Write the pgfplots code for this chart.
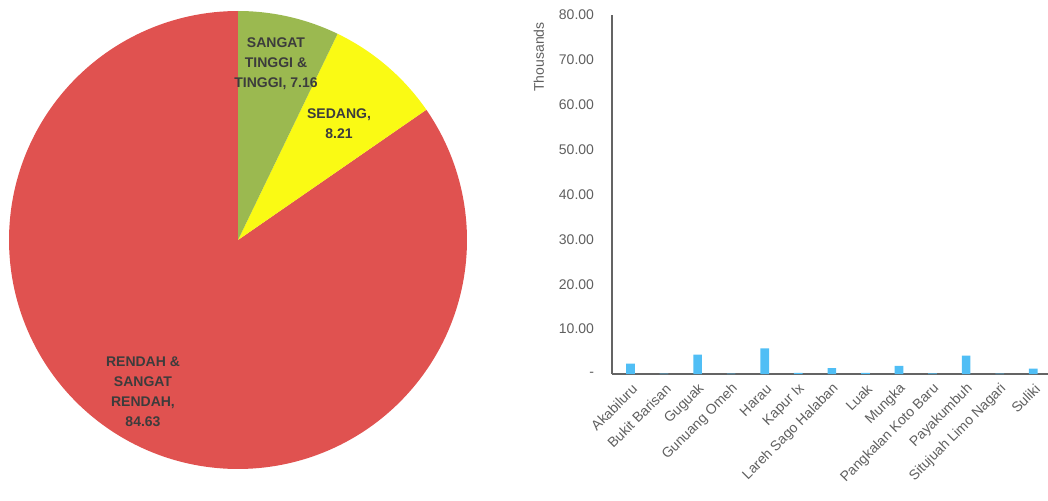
\documentclass[border=0pt]{standalone}
\usepackage{fontspec}
\setmainfont{Liberation Sans}
\usepackage{pgfplots}
\usepackage{pgfplotstable}
\pgfplotsset{compat=1.18}

\definecolor{pred}{RGB}{224,82,80}
\definecolor{pgreen}{RGB}{155,185,80}
\definecolor{pyellow}{RGB}{250,250,20}
\definecolor{barblue}{RGB}{80,190,245}
\definecolor{tickgray}{RGB}{95,95,95}
\definecolor{labgray}{RGB}{60,60,60}
\definecolor{axgray}{RGB}{100,100,100}

\pgfplotstableread{
label value
ST 7.16
SE 8.21
RE 84.63
}\piedata

\pgfplotstableread{
idx val
0 2.3
1 0.1
2 4.3
3 0.1
4 5.7
5 0.25
6 1.3
7 0.25
8 1.8
9 0.15
10 4.1
11 0.1
12 1.2
}\bardata

\pgfplotstablegetelem{0}{value}\of\piedata \let\vA\pgfplotsretval
\pgfplotstablegetelem{1}{value}\of\piedata \let\vB\pgfplotsretval
\pgfplotstablegetelem{2}{value}\of\piedata \let\vC\pgfplotsretval
\pgfmathsetmacro\aZero{90}
\pgfmathsetmacro\aOne{90-3.6*\vA}
\pgfmathsetmacro\aTwo{\aOne-3.6*\vB}
\pgfmathsetmacro\aThree{\aTwo-3.6*\vC}

\begin{document}
\begin{tikzpicture}
\path[use as bounding box] (0,0) rectangle (786pt,375pt);

% ---------- pie ----------
\begin{axis}[at={(178.5pt,195pt)}, anchor=center, hide axis, clip=false,
  xmin=-1, xmax=1, ymin=-1, ymax=1, x=171.75pt, y=171.75pt]
\addplot[fill=pred, draw=none, domain=\aThree:\aTwo, samples=200, variable=\t]
  ({cos(\t)},{sin(\t)}) -- (axis cs:0,0) -- cycle;
\addplot[fill=pyellow, draw=none, domain=\aTwo:\aOne, samples=40, variable=\t]
  ({cos(\t)},{sin(\t)}) -- (axis cs:0,0) -- cycle;
\addplot[fill=pgreen, draw=none, domain=\aOne:\aZero, samples=40, variable=\t]
  ({cos(\t)},{sin(\t)}) -- (axis cs:0,0) -- cycle;
\end{axis}

\begin{scope}[every node/.style={align=center, text=labgray,
   font=\fontsize{10.5}{15}\selectfont\bfseries}]
\node at (207pt,327pt) {SANGAT\\TINGGI \&\\TINGGI, 7.16};
\node at (254.25pt,282pt) {SEDANG,\\8.21};
\node at (107.25pt,81pt) {RENDAH \&\\SANGAT\\RENDAH,\\84.63};
\end{scope}

% ---------- bars ----------
\begin{axis}[at={(459pt,94.5pt)}, anchor=south west, scale only axis,
  width=328.5pt, height=269.25pt,
  xmin=-0.55, xmax=12.5, ymin=0, ymax=80,
  axis x line*=bottom, axis y line*=left,
  axis line style={draw=axgray, line width=0.9pt},
  major tick length=0pt,
  ytick={0,10,...,80},
  yticklabels={-,10.00,20.00,30.00,40.00,50.00,60.00,70.00,80.00},
  yticklabel style={text=tickgray, font=\fontsize{10.5}{12}\selectfont, xshift=-10pt},
  xtick={0,...,12},
  xticklabels={Akabiluru,Bukit Barisan,Guguak,Gunuang Omeh,Harau,Kapur Ix,Lareh Sago Halaban,Luak,Mungka,Pangkalan Koto Baru,Payakumbuh,Situjuah Limo Nagari,Suliki},
  xticklabel style={rotate=45, anchor=east, text=tickgray, font=\fontsize{10.5}{12}\selectfont, yshift=-9pt, xshift=-1pt},
  ylabel={Thousands},
  ylabel style={at={(axis description cs:-0.167,0.883)}, anchor=center, text=tickgray, font=\fontsize{10.5}{12}\selectfont},
  ybar, bar width=6.5pt]
\addplot[fill=barblue, draw=none] table[x=idx, y=val] {\bardata};
\end{axis}
\end{tikzpicture}
\end{document}
